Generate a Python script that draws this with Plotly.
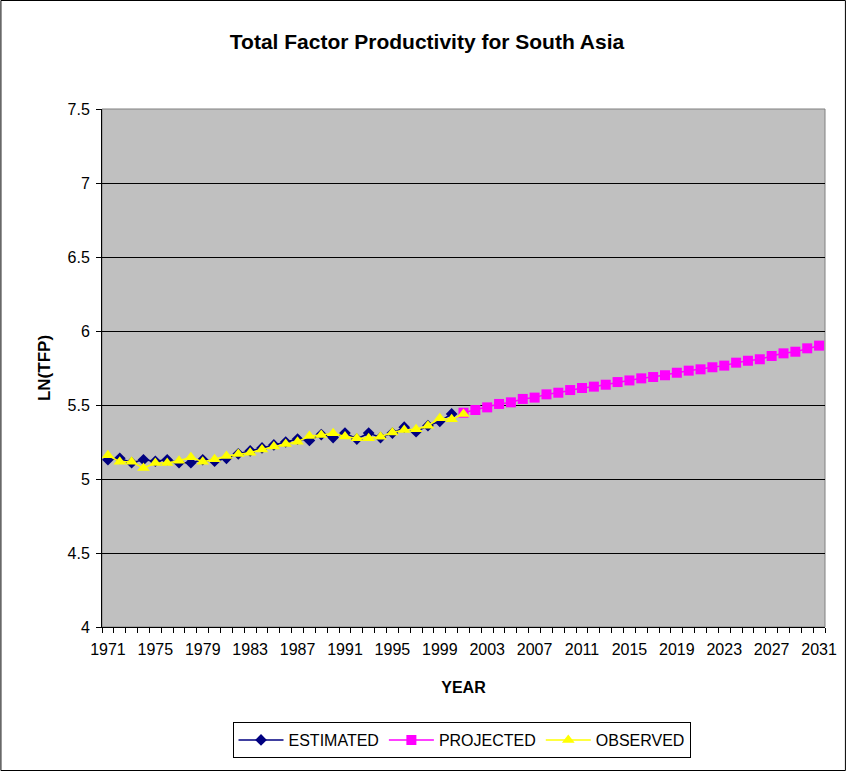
import plotly.graph_objects as go

# ---- data ----
est_years = list(range(1971, 2001))
estimated = [5.13, 5.14, 5.11, 5.13, 5.12, 5.13, 5.11, 5.11, 5.13, 5.12,
             5.14, 5.17, 5.19, 5.21, 5.23, 5.25, 5.27, 5.26, 5.30, 5.28,
             5.31, 5.27, 5.31, 5.28, 5.31, 5.35, 5.32, 5.36, 5.39, 5.44]

proj_years = list(range(2001, 2032))
projected = [5.448, 5.466, 5.484, 5.507, 5.518, 5.541, 5.550, 5.572, 5.583, 5.601,
             5.615, 5.624, 5.637, 5.655, 5.666, 5.680, 5.689, 5.701, 5.718, 5.732,
             5.741, 5.755, 5.766, 5.786, 5.799, 5.809, 5.831, 5.849, 5.860, 5.883,
             5.901]

obs_years = list(range(1971, 2002))
observed = [5.160, 5.117, 5.117, 5.074, 5.108, 5.108, 5.124, 5.147, 5.117, 5.133,
            5.155, 5.169, 5.178, 5.200, 5.220, 5.236, 5.252, 5.290, 5.297, 5.309,
            5.288, 5.275, 5.275, 5.286, 5.315, 5.331, 5.336, 5.360, 5.410, 5.403,
            5.439]

tick_years = list(range(1971, 2032, 4))
y_ticks = [4, 4.5, 5, 5.5, 6, 6.5, 7, 7.5]

FONT = "Liberation Sans, Arial, sans-serif"

fig = go.Figure()
fig.add_trace(go.Scatter(
    x=est_years, y=estimated, name="ESTIMATED", mode="lines+markers",
    line=dict(color="#000080", width=1.5),
    marker=dict(symbol="diamond", size=9, color="#000080")))
fig.add_trace(go.Scatter(
    x=proj_years, y=projected, name="PROJECTED", mode="lines+markers",
    line=dict(color="#FF00FF", width=1.5),
    marker=dict(symbol="square", size=10, color="#FF00FF")))
fig.add_trace(go.Scatter(
    x=obs_years, y=observed, name="OBSERVED", mode="lines+markers",
    line=dict(color="#FFFF00", width=1.5),
    marker=dict(symbol="triangle-up", size=11, color="#FFFF00")))

L, R, T, B = 102, 21, 109, 144
W, H = 849, 771
pw, ph = W - L - R, H - T - B

fig.update_layout(
    width=W, height=H,
    margin=dict(l=L, r=R, t=T, b=B, pad=0),
    paper_bgcolor="white",
    plot_bgcolor="#C0C0C0",
    font=dict(family=FONT, size=16, color="black"),
    title=dict(text="<b>Total Factor Productivity for South Asia</b>",
               x=427 / W, xanchor="center", y=1 - 42 / H, yanchor="middle",
               font=dict(family=FONT, size=21, color="black")),
    showlegend=True,
    legend=dict(orientation="h", x=(463 - L) / pw, xanchor="center",
                y=(627 - 740) / ph, yanchor="middle",
                bordercolor="black", borderwidth=1, bgcolor="white",
                font=dict(family=FONT, size=16, color="black"),
                itemwidth=45, tracegroupgap=0),
    xaxis=dict(range=[1970.5, 2031.5], tickmode="array", tickvals=tick_years,
               ticks="", showgrid=False, zeroline=False,
               showline=True, linecolor="black", linewidth=1,
               tickfont=dict(family=FONT, size=16),
               ticklabelstandoff=8,
               minor=dict(tickmode="array",
                          tickvals=[y - 0.5 for y in range(1971, 2033)],
                          ticks="outside", ticklen=5, tickcolor="black",
                          showgrid=False),
               title=dict(text="<b>YEAR</b>", standoff=24,
                          font=dict(family=FONT, size=16))),
    yaxis=dict(range=[4, 7.5], tickmode="array", tickvals=y_ticks,
               ticktext=[("%g" % v) for v in y_ticks],
               ticks="outside", ticklen=5, tickcolor="black",
               showgrid=True, gridcolor="black", gridwidth=1,
               zeroline=False, showline=True, linecolor="black", linewidth=1,
               tickfont=dict(family=FONT, size=16),
               ticklabelstandoff=3,
               title=dict(text="<b>LN(TFP)</b>", standoff=12,
                          font=dict(family=FONT, size=17))),
    shapes=[
        dict(type="rect", xref="paper", yref="paper", x0=0, x1=1, y0=0, y1=1,
             line=dict(color="#808080", width=1), layer="below"),
        dict(type="rect", xref="paper", yref="paper",
             x0=(0.5 - L) / pw, x1=(W - 0.5 - L) / pw,
             y0=(T + ph - (H - 0.5)) / ph, y1=(T + ph - 0.5) / ph,
             line=dict(color="black", width=1)),
    ],
)

fig.write_html("out.html")
